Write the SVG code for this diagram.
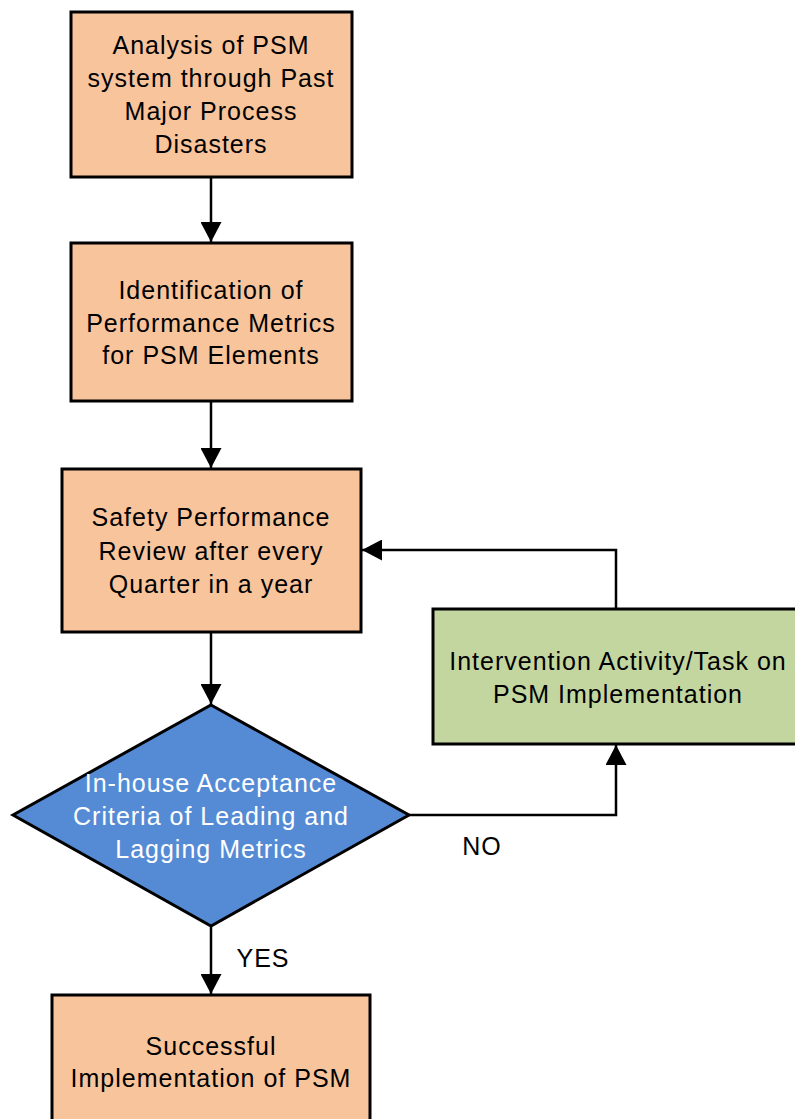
<svg xmlns="http://www.w3.org/2000/svg" width="795" height="1119" viewBox="0 0 795 1119">
<style>
.box{stroke:#000;stroke-width:3}
.peach{fill:#F8C49C}
.green{fill:#C4D6A0}
.blue{fill:#558BD5}
.t{font-family:"Liberation Sans",Arial,sans-serif;font-size:25px;letter-spacing:1px;text-anchor:middle;fill:#000}
.w{fill:#fff}
.c{fill:none;stroke:#000;stroke-width:2.5}
</style>
<defs>
<marker id="ah" markerUnits="userSpaceOnUse" markerWidth="20" markerHeight="21" refX="20" refY="10.5" orient="auto">
<path d="M0,0 L20,10.5 L0,21 z" fill="#000"/>
</marker>
</defs>
<rect width="795" height="1119" fill="#fff"/>
<g id="connectors">
<line class="c" x1="211" y1="177" x2="211" y2="242" marker-end="url(#ah)"/>
<line class="c" x1="211" y1="401" x2="211" y2="468" marker-end="url(#ah)"/>
<line class="c" x1="211" y1="632" x2="211" y2="704" marker-end="url(#ah)"/>
<line class="c" x1="211" y1="926" x2="211" y2="994" marker-end="url(#ah)"/>
<polyline class="c" points="409,815 616,815 616,745" marker-end="url(#ah)"/>
<polyline class="c" points="616,609 616,550 362,550" marker-end="url(#ah)"/>
<text class="t" x="263" y="967">YES</text>
<text class="t" x="482" y="855">NO</text>
</g>
<g id="n1">
<rect class="box peach" x="71" y="12" width="281" height="165"/>
<text class="t" x="211" y="54">Analysis of PSM</text>
<text class="t" x="211" y="87">system through Past</text>
<text class="t" x="211" y="120">Major Process</text>
<text class="t" x="211" y="153">Disasters</text>
</g>
<g id="n2">
<rect class="box peach" x="71" y="243" width="281" height="158"/>
<text class="t" x="211" y="299">Identification of</text>
<text class="t" x="211" y="332">Performance Metrics</text>
<text class="t" x="211" y="364">for PSM Elements</text>
</g>
<g id="n3">
<rect class="box peach" x="62" y="469" width="299" height="163"/>
<text class="t" x="211" y="526">Safety Performance</text>
<text class="t" x="211" y="560">Review after every</text>
<text class="t" x="211" y="593">Quarter in a year</text>
</g>
<g id="n4">
<rect class="box green" x="433" y="609" width="372" height="135"/>
<text class="t" x="618" y="670">Intervention Activity/Task on</text>
<text class="t" x="618" y="703">PSM Implementation</text>
</g>
<g id="n5">
<polygon class="box blue" points="211,705 409,815 211,926 13,815"/>
<text class="t w" x="211" y="792">In-house Acceptance</text>
<text class="t w" x="211" y="825">Criteria of Leading and</text>
<text class="t w" x="211" y="858">Lagging Metrics</text>
</g>
<g id="n6">
<rect class="box peach" x="52" y="995" width="318" height="140"/>
<text class="t" x="211" y="1055">Successful</text>
<text class="t" x="211" y="1087">Implementation of PSM</text>
</g>
</svg>
